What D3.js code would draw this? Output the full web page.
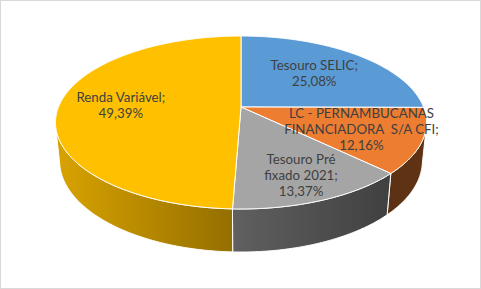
<!DOCTYPE html>
<html>
<head>
<meta charset="utf-8">
<script src="https://cdn.jsdelivr.net/npm/d3@7"></script>
<style>
  html, body { margin: 0; padding: 0; background: #fff; }
  svg { display: block; }
  text { font-family: Lato, "Open Sans", sans-serif; font-size: 13.3px; fill: #404040; white-space: pre; }
</style>
</head>
<body>
<script>
// Data
const categories = ["Tesouro SELIC", "LC - PERNAMBUCANAS\nFINANCIADORA  S/A CFI", "Tesouro Pré\nfixado 2021", "Renda Variável"];
const values = [25.08, 12.16, 13.37, 49.39];
const colors = ["#5B9BD5", "#ED7D31", "#A5A5A5", "#FFC000"];

const width = 481, height = 289;

// 3d view: centre of the pie on screen, camera tilt, radius & thickness (camera distance = 1)
const cx = 241, cy = 107;
const alpha = Math.asin(0.4586);
const R = 0.2017, F = 904.8, T = 0.0479;
// how far out each label sits along the slice bisector
const labelRadius = [0.61, 0.68, 0.77, 0.66];

function project(phi, r, h) {
    const x = r * R * Math.sin(phi);
    const y = -r * R * Math.cos(phi); // positive = towards the viewer
    const depth = 1 - y * Math.cos(alpha) - h * Math.sin(alpha);
    const up = h * Math.cos(alpha) - y * Math.sin(alpha);
    return [cx + F * x / depth, cy - F * up / depth];
}

const svg = d3.select("body").append("svg")
    .attr("width", width)
    .attr("height", height);

svg.append("rect")
    .attr("x", 0.5).attr("y", 0.5)
    .attr("width", width - 1).attr("height", height - 1)
    .attr("fill", "#fff")
    .attr("stroke", "#D9D9D9");

const arcs = d3.pie().sort(null).value(d => d)(values);

// side wall shading, darker to the right
const shade = d3.scaleLinear()
    .domain([55, 233, 390, 427])
    .range([0.85, 0.58, 0.39, 0.41])
    .clamp(true);

const defs = svg.append("defs");
colors.forEach((c, i) => {
    const base = d3.rgb(c);
    const grad = defs.append("linearGradient")
        .attr("id", "side" + i)
        .attr("gradientUnits", "userSpaceOnUse")
        .attr("x1", 55).attr("x2", 427).attr("y1", 0).attr("y2", 0);
    shade.domain().forEach(px => {
        const f = shade(px);
        grad.append("stop")
            .attr("offset", (px - 55) / (427 - 55))
            .attr("stop-color", d3.rgb(base.r * f, base.g * f, base.b * f).formatHex());
    });
});

const line = d3.line();
const step = Math.PI / 360;
function sample(a0, a1) {
    const n = Math.max(2, Math.ceil((a1 - a0) / step));
    return d3.range(n + 1).map(k => a0 + (a1 - a0) * k / n);
}

// visible part of the cylinder wall
const visMin = Math.acos(-R / Math.cos(alpha));
const visMax = 2 * Math.PI - visMin;

const walls = svg.append("g");
arcs.forEach((a, i) => {
    const a0 = Math.max(a.startAngle, visMin), a1 = Math.min(a.endAngle, visMax);
    if (a1 <= a0) return;
    const ang = sample(a0, a1);
    const pts = ang.map(p => project(p, 1, 0))
        .concat(ang.slice().reverse().map(p => project(p, 1, -T)));
    walls.append("path")
        .attr("d", line(pts) + "Z")
        .attr("fill", `url(#side${i})`)
        .attr("stroke", "#fff")
        .attr("stroke-width", 1)
        .attr("stroke-linejoin", "round");
});

const tops = svg.append("g");
arcs.forEach((a, i) => {
    const pts = [project(0, 0, 0)].concat(sample(a.startAngle, a.endAngle).map(p => project(p, 1, 0)));
    tops.append("path")
        .attr("d", line(pts) + "Z")
        .attr("fill", colors[i])
        .attr("stroke", "#fff")
        .attr("stroke-width", 1)
        .attr("stroke-linejoin", "round");
});

const fmt = d3.formatLocale({ decimal: ",", thousands: ".", grouping: [3], currency: ["R$", ""] }).format(".2%");
const lineHeight = 16;

const labels = svg.append("g");
arcs.forEach((a, i) => {
    const mid = (a.startAngle + a.endAngle) / 2;
    const [lx, ly] = project(mid, labelRadius[i], 0);
    const lines = (categories[i] + ";").split("\n").concat([fmt(values[i] / 100)]);
    const t = labels.append("text")
        .attr("text-anchor", "middle");
    lines.forEach((s, k) => {
        t.append("tspan")
            .attr("x", lx)
            .attr("y", ly + (k - (lines.length - 1) / 2) * lineHeight + 4.5)
            .text(s);
    });
});
</script>
</body>
</html>
